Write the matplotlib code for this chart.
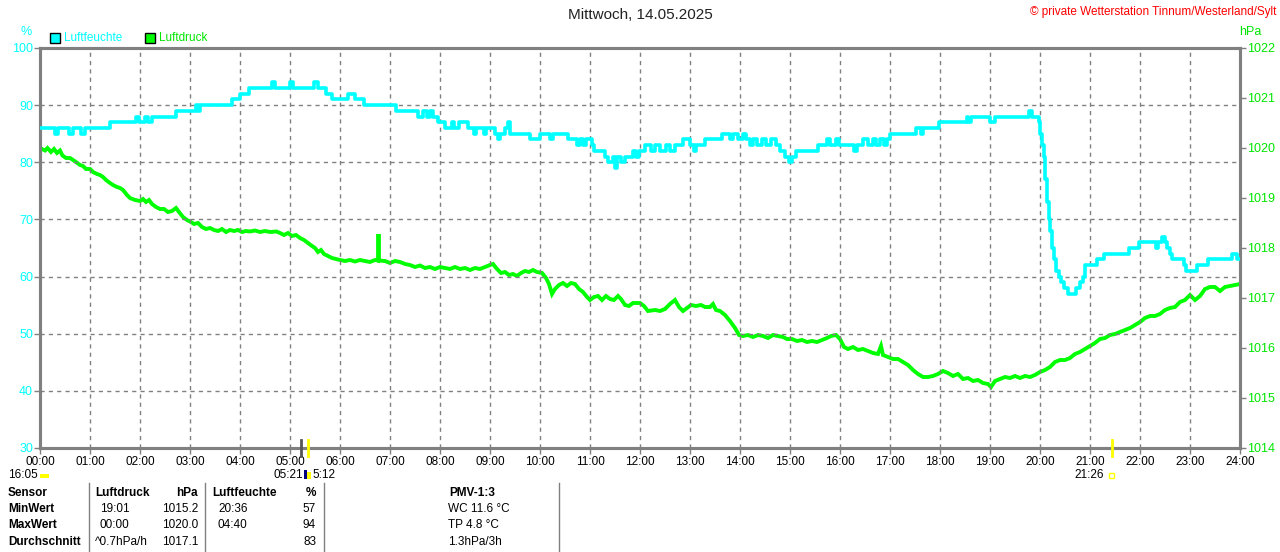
import matplotlib
matplotlib.use("Agg")
import matplotlib.pyplot as plt
from matplotlib.patches import Rectangle
from matplotlib.lines import Line2D
from matplotlib.transforms import blended_transform_factory

# ---------------- data ----------------
title = "Mittwoch, 14.05.2025"
copyright_text = "© private Wetterstation Tinnum/Westerland/Sylt"
hour_labels = ["%02d:00" % h for h in range(25)]
hum_ticks = [30, 40, 50, 60, 70, 80, 90, 100]
pres_ticks = [1014, 1015, 1016, 1017, 1018, 1019, 1020, 1021, 1022]

# humidity (%), step data: hours, values
hum_t = [0.00, 0.30, 0.36, 0.58, 0.66, 0.82, 0.90, 1.40, 1.92, 1.98, 2.10, 2.16, 2.24,
         2.72, 3.12, 3.16, 3.20, 3.84, 4.00, 4.17, 4.64, 4.70, 5.00, 5.06, 5.48, 5.56,
         5.72, 5.84, 6.16, 6.30, 6.48, 7.12, 7.56, 7.66, 7.74, 7.80, 7.86, 7.96, 8.10,
         8.24, 8.28, 8.38, 8.56, 8.68, 8.72, 8.88, 8.92, 9.10, 9.16, 9.20, 9.30, 9.36,
         9.40, 9.80, 10.00, 10.20, 10.26, 10.56, 10.74, 10.80, 10.86, 10.92, 11.04, 11.08,
         11.30, 11.36, 11.46, 11.50, 11.54, 11.62, 11.70, 11.86, 11.92, 11.98, 12.10, 12.22,
         12.30, 12.40, 12.52, 12.60, 12.70, 12.86, 13.00, 13.08, 13.12, 13.30, 13.64, 13.80,
         13.86, 13.96, 14.06, 14.12, 14.20, 14.26, 14.34, 14.44, 14.52, 14.62, 14.72, 14.80,
         14.90, 14.98, 15.04, 15.12, 15.56, 15.74, 15.80, 15.92, 15.98, 16.28, 16.34, 16.46,
         16.56, 16.66, 16.72, 16.80, 16.88, 16.94, 17.00, 17.52, 17.62, 17.66, 17.97, 18.53,
         18.56, 18.62, 19.00, 19.10, 19.78, 19.84, 19.97, 20.00, 20.04, 20.07, 20.10, 20.13,
         20.17, 20.20, 20.24, 20.27, 20.32, 20.37, 20.42, 20.47, 20.55, 20.63, 20.72, 20.80,
         20.85, 20.90, 21.13, 21.27, 21.77, 21.97, 22.32, 22.36, 22.44, 22.50, 22.54, 22.60,
         22.64, 22.88, 22.92, 23.14, 23.36, 23.84, 23.94, 24.00]
hum_v = [86, 85, 86, 85, 86, 85, 86, 87, 88, 87, 88, 87, 88,
         89, 90, 89, 90, 91, 92, 93, 94, 93, 94, 93, 94, 93,
         92, 91, 92, 91, 90, 89, 88, 89, 88, 89, 88, 87, 86,
         87, 86, 87, 86, 85, 86, 85, 86, 85, 84, 85, 86, 87,
         85, 84, 85, 84, 85, 84, 83, 84, 83, 84, 83, 82,
         81, 80, 81, 79, 81, 80, 81, 82, 81, 82, 83, 82,
         83, 82, 83, 82, 83, 84, 83, 82, 83, 84, 85, 84,
         85, 84, 85, 84, 83, 84, 83, 84, 83, 84, 83, 82,
         81, 80, 81, 82, 83, 84, 83, 84, 83, 82, 83, 84,
         83, 84, 83, 84, 83, 84, 85, 86, 85, 86, 87, 88,
         87, 88, 87, 88, 89, 88, 87, 85, 83, 81, 77, 73,
         70, 68, 65, 63, 61, 60, 59, 58, 57, 57, 58, 59,
         60, 62, 63, 64, 65, 66, 65, 66, 67, 66, 65, 64,
         63, 62, 61, 62, 63, 64, 63, 63]

# air pressure (hPa)
pres_t = [0.00, 0.10, 0.15, 0.22, 0.28, 0.34, 0.40, 0.45, 0.52, 0.60, 0.66, 0.72, 0.80,
          0.86, 0.92, 1.00, 1.06, 1.14, 1.20, 1.26, 1.32, 1.40, 1.46, 1.54, 1.60, 1.66,
          1.74, 1.80, 1.90, 2.00, 2.06, 2.12, 2.18, 2.24, 2.32, 2.40, 2.48, 2.56, 2.64,
          2.72, 2.78, 2.86, 2.94, 3.02, 3.08, 3.16, 3.24, 3.32, 3.40, 3.48, 3.56, 3.64,
          3.72, 3.80, 3.88, 3.96, 4.04, 4.12, 4.20, 4.30, 4.40, 4.50, 4.60, 4.73, 4.80,
          4.88, 4.96, 5.04, 5.12, 5.20, 5.28, 5.36, 5.44, 5.50, 5.56, 5.62, 5.68, 5.76,
          5.84, 5.92, 6.00, 6.10, 6.20, 6.30, 6.40, 6.50, 6.60, 6.70, 6.76, 6.77, 6.78,
          6.90, 7.00, 7.10, 7.20, 7.30, 7.40, 7.50, 7.60, 7.70, 7.80, 7.90, 8.00, 8.10,
          8.20, 8.30, 8.40, 8.50, 8.60, 8.70, 8.80, 8.90, 9.00, 9.06, 9.14, 9.22, 9.30,
          9.38, 9.46, 9.54, 9.62, 9.70, 9.78, 9.86, 9.94, 10.04, 10.12, 10.18, 10.24,
          10.30, 10.38, 10.46, 10.54, 10.62, 10.70, 10.78, 10.86, 10.94, 11.00, 11.08,
          11.16, 11.24, 11.32, 11.40, 11.48, 11.56, 11.62, 11.70, 11.78, 11.86, 12.00,
          12.08, 12.16, 12.30, 12.40, 12.50, 12.60, 12.70, 12.78, 12.86, 12.94, 13.02,
          13.12, 13.22, 13.30, 13.40, 13.46, 13.52, 13.60, 13.70, 13.80, 13.90, 13.98,
          14.06, 14.16, 14.26, 14.36, 14.46, 14.56, 14.66, 14.76, 14.86, 14.94, 15.04,
          15.14, 15.24, 15.34, 15.44, 15.54, 15.64, 15.74, 15.82, 15.92, 16.00, 16.08,
          16.16, 16.26, 16.36, 16.46, 16.56, 16.66, 16.76, 16.82, 16.86, 16.96, 17.06,
          17.16, 17.26, 17.36, 17.46, 17.56, 17.66, 17.76, 17.86, 17.96, 18.06, 18.16,
          18.26, 18.36, 18.46, 18.56, 18.66, 18.76, 18.86, 18.96, 19.02, 19.10, 19.20,
          19.30, 19.40, 19.50, 19.60, 19.70, 19.80, 19.90, 20.00, 20.10, 20.20, 20.30,
          20.40, 20.50, 20.60, 20.70, 20.80, 20.90, 21.00, 21.10, 21.20, 21.30, 21.40,
          21.50, 21.60, 21.70, 21.80, 21.90, 22.00, 22.10, 22.20, 22.30, 22.40, 22.50,
          22.60, 22.70, 22.80, 22.90, 23.00, 23.10, 23.20, 23.30, 23.40, 23.50, 23.60,
          23.70, 23.80, 23.90, 24.00]
pres_v = [1020.00, 1019.95, 1020.00, 1019.92, 1019.98, 1019.90, 1019.95, 1019.85, 1019.80,
          1019.80, 1019.76, 1019.72, 1019.66, 1019.64, 1019.58, 1019.58, 1019.52, 1019.48,
          1019.46, 1019.42, 1019.36, 1019.30, 1019.26, 1019.22, 1019.20, 1019.16, 1019.06,
          1019.00, 1018.96, 1018.94, 1018.98, 1018.92, 1018.96, 1018.88, 1018.82, 1018.78,
          1018.78, 1018.72, 1018.74, 1018.80, 1018.72, 1018.62, 1018.56, 1018.52, 1018.48,
          1018.50, 1018.42, 1018.38, 1018.40, 1018.36, 1018.34, 1018.38, 1018.32, 1018.36,
          1018.34, 1018.36, 1018.32, 1018.34, 1018.33, 1018.35, 1018.32, 1018.34, 1018.32,
          1018.33, 1018.30, 1018.26, 1018.30, 1018.24, 1018.26, 1018.20, 1018.16, 1018.10,
          1018.04, 1018.00, 1017.92, 1017.96, 1017.88, 1017.84, 1017.80, 1017.78, 1017.76,
          1017.74, 1017.76, 1017.73, 1017.76, 1017.74, 1017.72, 1017.76, 1017.75, 1018.28,
          1017.75, 1017.74, 1017.70, 1017.74, 1017.72, 1017.68, 1017.66, 1017.62, 1017.65,
          1017.60, 1017.62, 1017.58, 1017.62, 1017.60, 1017.58, 1017.62, 1017.58, 1017.60,
          1017.56, 1017.60, 1017.58, 1017.62, 1017.66, 1017.68, 1017.58, 1017.50, 1017.52,
          1017.46, 1017.48, 1017.44, 1017.50, 1017.54, 1017.52, 1017.56, 1017.52, 1017.50,
          1017.40, 1017.28, 1017.08, 1017.18, 1017.26, 1017.30, 1017.24, 1017.30, 1017.28,
          1017.18, 1017.12, 1017.02, 1016.96, 1017.02, 1017.04, 1016.96, 1017.04, 1016.98,
          1016.96, 1017.04, 1016.98, 1016.86, 1016.84, 1016.90, 1016.90, 1016.84, 1016.74,
          1016.76, 1016.74, 1016.78, 1016.88, 1016.96, 1016.82, 1016.74, 1016.80, 1016.86,
          1016.84, 1016.86, 1016.82, 1016.82, 1016.88, 1016.76, 1016.74, 1016.66, 1016.54,
          1016.40, 1016.26, 1016.24, 1016.26, 1016.22, 1016.26, 1016.24, 1016.20, 1016.26,
          1016.24, 1016.22, 1016.18, 1016.18, 1016.14, 1016.16, 1016.12, 1016.14, 1016.12,
          1016.16, 1016.20, 1016.24, 1016.26, 1016.18, 1016.02, 1015.98, 1016.02, 1015.96,
          1015.98, 1015.94, 1015.90, 1015.88, 1016.04, 1015.86, 1015.82, 1015.78, 1015.78,
          1015.72, 1015.66, 1015.56, 1015.48, 1015.42, 1015.42, 1015.44, 1015.48, 1015.54,
          1015.50, 1015.44, 1015.48, 1015.38, 1015.40, 1015.34, 1015.36, 1015.30, 1015.28,
          1015.22, 1015.34, 1015.38, 1015.42, 1015.40, 1015.44, 1015.40, 1015.44, 1015.42,
          1015.46, 1015.52, 1015.56, 1015.62, 1015.72, 1015.76, 1015.76, 1015.80, 1015.88,
          1015.92, 1015.98, 1016.04, 1016.10, 1016.18, 1016.20, 1016.26, 1016.28, 1016.32,
          1016.36, 1016.40, 1016.46, 1016.52, 1016.60, 1016.64, 1016.64, 1016.68, 1016.76,
          1016.80, 1016.82, 1016.92, 1016.96, 1017.06, 1016.96, 1017.04, 1017.18, 1017.22,
          1017.22, 1017.14, 1017.22, 1017.24, 1017.26, 1017.28]

# sun / moon markers (hours)
marker_gray = [5.22]
marker_yellow = [5.36, 21.43]

# summary table
table_header = ["Sensor", "Luftdruck", "hPa", "Luftfeuchte", "%", "PMV-1:3"]
row_names = ["MinWert", "MaxWert", "Durchschnitt"]
pres_time = ["19:01", "00:00", "^0.7hPa/h"]
pres_val = ["1015.2", "1020.0", "1017.1"]
hum_time = ["20:36", "04:40", ""]
hum_val = ["57", "94", "83"]
pmv = ["WC 11.6 °C", "TP 4.8 °C", "1.3hPa/3h"]

# ---------------- style ----------------
W, H = 1280, 552
CYAN = "#00ffff"
GREEN = "#00ff00"
GREEN_T = "#00e600"
GRAY = "#808080"
FONT = "Liberation Sans"
plt.rcParams["font.family"] = [FONT, "DejaVu Sans"]

fig = plt.figure(figsize=(W / 100, H / 100), dpi=100)
fig.patch.set_facecolor("white")

def fx(px):
    return px / W

def fy(py):
    return 1 - py / H

ax = fig.add_axes([fx(40), fy(448), fx(1200), 400 / H])
ax.set_xlim(0, 24)
ax.set_ylim(30, 100)
ax2 = ax.twinx()
ax2.set_ylim(1014, 1022)

for a in (ax, ax2):
    for s in a.spines.values():
        s.set_color(GRAY)
        s.set_linewidth(2.2)

ax.set_xticks(range(25))
ax.set_xticklabels(hour_labels)
ax.set_yticks(hum_ticks)
ax.set_yticklabels([str(v) for v in hum_ticks])
ax2.set_yticks(pres_ticks)
ax2.set_yticklabels([str(v) for v in pres_ticks])

ax.tick_params(axis="x", colors=GRAY, labelcolor="black", labelsize=8.5, length=4, width=1, pad=2)
ax.tick_params(axis="y", colors=GRAY, labelcolor=CYAN, labelsize=9, length=4, width=1, pad=1)
ax2.tick_params(axis="y", colors=GRAY, labelcolor=GREEN_T, labelsize=9, length=4, width=1, pad=1)

# grid
for h in range(1, 24):
    ax.axvline(h, color=GRAY, lw=1.0, ls=(0, (3, 3)), zorder=1)
for v in hum_ticks[1:-1]:
    ax.axhline(v, color=GRAY, lw=1.0, ls=(0, (3, 3)), zorder=1)

ax2.plot(pres_t, pres_v, color=GREEN, lw=2.8, zorder=3, solid_joinstyle="miter")
ax.plot(hum_t, hum_v, color=CYAN, lw=2.6, drawstyle="steps-post", zorder=4)
ax.set_zorder(ax2.get_zorder() + 1)
ax.patch.set_visible(False)

# markers at the x axis
trans = blended_transform_factory(ax.transData, ax.transAxes)
for t in marker_gray:
    ax.add_line(Line2D([t, t], [-0.02, 0.02], transform=trans, color="#555555", lw=2, clip_on=False, zorder=6))
for t in marker_yellow:
    ax.add_line(Line2D([t, t], [-0.02, 0.02], transform=trans, color="#ffff00", lw=2, clip_on=False, zorder=6))

# titles / labels
fig.text(0.5, fy(15), title, ha="center", va="center", fontsize=11, color="#222222")
fig.text(fx(1276), fy(12), copyright_text, ha="right", va="center", fontsize=8.5, color="#ff0000")
fig.text(fx(26), fy(32), "%", ha="center", va="center", fontsize=9, color=CYAN)
fig.text(fx(1250), fy(32), "hPa", ha="center", va="center", fontsize=9, color=GREEN_T)

# legend
fig.patches.append(Rectangle((fx(50), fy(43)), fx(10), 10 / H, transform=fig.transFigure,
                             facecolor=CYAN, edgecolor="black", lw=1))
fig.text(fx(64), fy(38), "Luftfeuchte", ha="left", va="center", fontsize=8.5, color=CYAN)
fig.patches.append(Rectangle((fx(145), fy(43)), fx(10), 10 / H, transform=fig.transFigure,
                             facecolor=GREEN, edgecolor="black", lw=1))
fig.text(fx(159), fy(38), "Luftdruck", ha="left", va="center", fontsize=8.5, color=GREEN_T)

# sun labels
sfs = 8.5
sy = 475
fig.text(fx(8), fy(sy), "16:05", ha="left", va="center", fontsize=sfs, color="black")
fig.patches.append(Rectangle((fx(40), fy(478)), fx(9), 4 / H, transform=fig.transFigure,
                             facecolor="#ffff00", edgecolor="none"))
fig.text(fx(303), fy(sy), "05:21", ha="right", va="center", fontsize=sfs, color="black")
fig.patches.append(Rectangle((fx(304), fy(479)), fx(3), 9 / H, transform=fig.transFigure,
                             facecolor="#000080", edgecolor="none"))
fig.patches.append(Rectangle((fx(307), fy(479)), fx(4), 7 / H, transform=fig.transFigure,
                             facecolor="#ffff00", edgecolor="none"))
fig.text(fx(312), fy(sy), "5:12", ha="left", va="center", fontsize=sfs, color="black")
fig.text(fx(1104), fy(sy), "21:26", ha="right", va="center", fontsize=sfs, color="black")
fig.patches.append(Rectangle((fx(1109), fy(478)), fx(5), 5 / H, transform=fig.transFigure,
                             facecolor="none", edgecolor="#ffff00", lw=1))

# table separators
for px in (89, 205, 324, 559):
    fig.add_artist(Line2D([fx(px), fx(px)], [fy(483), fy(552)], transform=fig.transFigure,
                          color=GRAY, lw=1))

rows_y = [493, 509, 525, 542]
fs = 8.5
fig.text(fx(8), fy(rows_y[0]), table_header[0], ha="left", va="center", fontsize=fs, fontweight="bold")
fig.text(fx(95), fy(rows_y[0]), table_header[1], ha="left", va="center", fontsize=fs, fontweight="bold")
fig.text(fx(198), fy(rows_y[0]), table_header[2], ha="right", va="center", fontsize=fs, fontweight="bold")
fig.text(fx(212), fy(rows_y[0]), table_header[3], ha="left", va="center", fontsize=fs, fontweight="bold")
fig.text(fx(316), fy(rows_y[0]), table_header[4], ha="right", va="center", fontsize=fs, fontweight="bold")
fig.text(fx(449), fy(rows_y[0]), table_header[5], ha="left", va="center", fontsize=fs, fontweight="bold")
for i in range(3):
    y = fy(rows_y[i + 1])
    fig.text(fx(8), y, row_names[i], ha="left", va="center", fontsize=fs, fontweight="bold")
    fig.text(fx(100) if i < 2 else fx(95), y, pres_time[i], ha="left", va="center", fontsize=fs)
    fig.text(fx(198), y, pres_val[i], ha="right", va="center", fontsize=fs)
    fig.text(fx(218), y, hum_time[i], ha="left", va="center", fontsize=fs)
    fig.text(fx(316), y, hum_val[i], ha="right", va="center", fontsize=fs)
    fig.text(fx(448), y, pmv[i], ha="left", va="center", fontsize=fs)

fig.savefig("out.png", dpi=100)
